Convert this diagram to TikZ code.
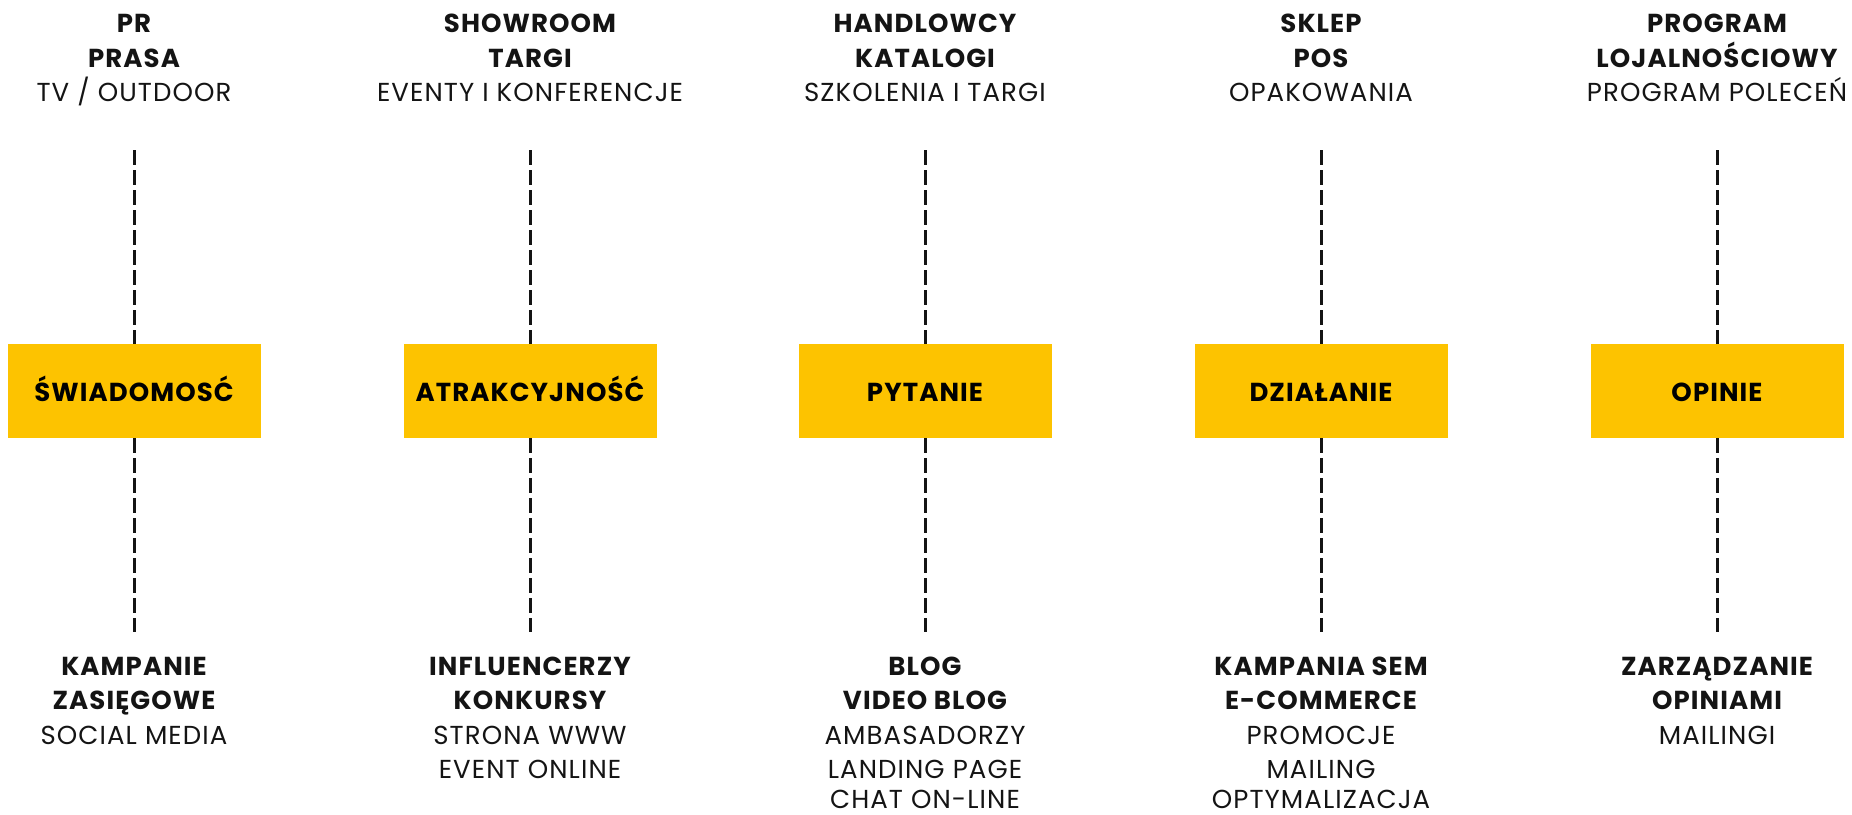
\documentclass[tikz,border=0pt]{standalone}
\usepackage{fontspec}
\setmainfont{Poppins}[BoldFont={Poppins Bold}, LetterSpace=4.2]
\definecolor{boxyellow}{RGB}{253,195,0}
\definecolor{ink}{RGB}{20,20,20}
\tikzset{
  hd/.style={anchor=base, inner sep=0pt, text depth=0pt, font=\fontsize{26}{30}\selectfont\bfseries, text=ink},
  rg/.style={anchor=base, inner sep=0pt, text depth=0pt, font=\fontsize{26}{30}\selectfont, text=ink},
  stage/.style={fill=boxyellow, draw=none, minimum width=253pt, minimum height=94pt, inner sep=0pt},
  stagetext/.style={anchor=base, inner sep=0pt, font=\fontsize{26}{30}\selectfont\bfseries, text=black},
  dashline/.style={draw=ink, line width=3pt, dash pattern=on 15pt off 5pt}
}
\begin{document}
\begin{tikzpicture}[x=1pt,y=-1pt]
\useasboundingbox (0,0) rectangle (1852,814);
% boxes
\node[stage] (b1) at (134,391) {};
\node[stage] (b2) at (530,391) {};
\node[stage] (b3) at (925,391) {};
\node[stage] (b4) at (1321,391) {};
\node[stage] (b5) at (1717,391) {};
\node[stagetext] (l1) at (134,401.5) {ŚWIADOMOSĆ};
\node[stagetext] (l2) at (530,401.5) {ATRAKCYJNOŚĆ};
\node[stagetext] (l3) at (925,401.5) {PYTANIE};
\node[stagetext] (l4) at (1321,401.5) {DZIAŁANIE};
\node[stagetext] (l5) at (1717,401.5) {OPINIE};
% line ends
\foreach \n/\x in {1/134,2/530,3/925,4/1321,5/1717}{
  \coordinate (u\n) at (\x,150);
  \coordinate (d\n) at (\x,632);
  \draw[dashline] (u\n) -- (b\n.north);
  \draw[dashline] (b\n.south) -- (d\n);
}
% column 1
\node[hd] (t1a) at (134,32) {PR};
\node[hd] (t1b) at (134,67) {PRASA};
\node[rg] (t1c) at (134,101) {TV / OUTDOOR};
\node[hd] (s1a) at (134,675) {KAMPANIE};
\node[hd] (s1b) at (134,709.5) {ZASIĘGOWE};
\node[rg] (s1c) at (134,744) {SOCIAL MEDIA};
% column 2
\node[hd] (t2a) at (530,32) {SHOWROOM};
\node[hd] (t2b) at (530,67) {TARGI};
\node[rg] (t2c) at (530,101) {EVENTY I KONFERENCJE};
\node[hd] (s2a) at (530,675) {INFLUENCERZY};
\node[hd] (s2b) at (530,709.5) {KONKURSY};
\node[rg] (s2c) at (530,744) {STRONA WWW};
\node[rg] (s2d) at (530,778.5) {EVENT ONLINE};
% column 3
\node[hd] (t3a) at (925,32) {HANDLOWCY};
\node[hd] (t3b) at (925,67) {KATALOGI};
\node[rg] (t3c) at (925,101) {SZKOLENIA I TARGI};
\node[hd] (s3a) at (925,675) {BLOG};
\node[hd] (s3b) at (925,709.5) {VIDEO BLOG};
\node[rg] (s3c) at (925,744) {AMBASADORZY};
\node[rg] (s3d) at (925,778) {LANDING PAGE};
\node[rg] (s3e) at (925,808) {CHAT ON-LINE};
% column 4
\node[hd] (t4a) at (1321,32) {SKLEP};
\node[hd] (t4b) at (1321,67) {POS};
\node[rg] (t4c) at (1321,101) {OPAKOWANIA};
\node[hd] (s4a) at (1321,675) {KAMPANIA SEM};
\node[hd] (s4b) at (1321,709.5) {E-COMMERCE};
\node[rg] (s4c) at (1321,744) {PROMOCJE};
\node[rg] (s4d) at (1321,778) {MAILING};
\node[rg] (s4e) at (1321,808) {OPTYMALIZACJA};
% column 5
\node[hd] (t5a) at (1717,32) {PROGRAM};
\node[hd] (t5b) at (1717,67) {LOJALNOŚCIOWY};
\node[rg] (t5c) at (1717,101) {PROGRAM POLECEŃ};
\node[hd] (s5a) at (1717,675) {ZARZĄDZANIE};
\node[hd] (s5b) at (1717,709.5) {OPINIAMI};
\node[rg] (s5c) at (1717,744) {MAILINGI};
\end{tikzpicture}
\end{document}
